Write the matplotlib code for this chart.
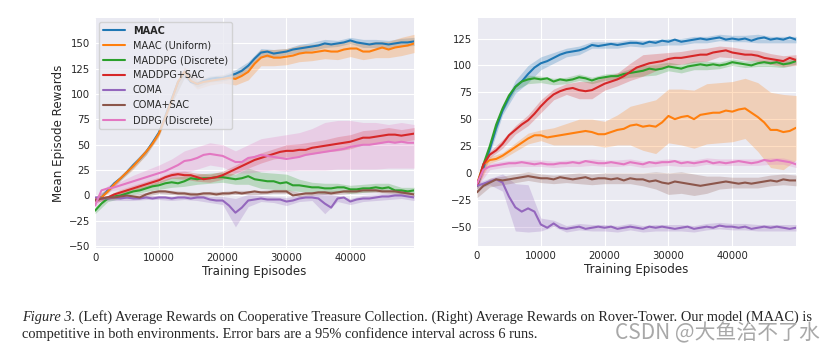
import numpy as np
import matplotlib
matplotlib.use("Agg")
import matplotlib.pyplot as plt

# training episodes: one reading every 1000 episodes, bands every 2000
episodes = np.arange(0, 50001, 1000)
band_eps = episodes[::2]

labels = ["MAAC", "MAAC (Uniform)", "MADDPG (Discrete)", "MADDPG+SAC",
          "COMA", "COMA+SAC", "DDPG (Discrete)"]
colors = ["#1f77b4", "#ff7f0e", "#2ca02c", "#d62728",
          "#9467bd", "#8c564b", "#e377c2"]

# ---- left: Cooperative Treasure Collection ----
tc_maac = [-3, -2, 5, 12, 17, 23, 30, 36, 43, 52,
           62, 78, 95, 112, 121, 112, 110, 113, 115, 116,
           116, 118, 120, 123, 128, 135, 141, 142, 140, 141,
           142, 144, 145, 146, 147, 148, 150, 149, 150, 151,
           153, 151, 150, 149, 150, 150, 149, 150, 151, 151, 152]
tc_uniform = [-3, -2, 4, 11, 17, 23, 29, 36, 43, 51,
              61, 77, 94, 112, 122, 113, 110, 112, 113, 114,
              115, 116, 115, 118, 122, 130, 136, 138, 136, 136,
              137, 138, 140, 141, 141, 142, 143, 142, 142, 144,
              145, 145, 142, 142, 144, 146, 144, 146, 147, 148, 150]
tc_maddpg = [-15, -8, -3, -1, 0, 2, 4, 5, 7, 9,
             10, 12, 13, 12, 14, 17, 16, 17, 17, 18,
             18, 17, 16, 17, 19, 16, 15, 14, 14, 12,
             13, 10, 10, 9, 8, 8, 7, 7, 8, 8,
             6, 6, 7, 7, 8, 7, 8, 5, 5, 4, 5]
tc_maddpg_sac = [-5, -3, -2, 1, 3, 5, 7, 9, 11, 13,
                 15, 18, 20, 21, 20, 20, 18, 16, 17, 18,
                 20, 23, 26, 29, 32, 35, 37, 39, 41, 43,
                 44, 44, 45, 45, 47, 48, 49, 50, 51, 52,
                 53, 55, 57, 57, 58, 59, 60, 60, 59, 60, 61]
tc_coma = [-2, -3, -3, -2, -3, -2, -3, -3, -2, -3,
           -2, -2, -3, -2, -2, -3, -2, -2, -4, -5,
           -5, -10, -17, -12, -5, -4, -3, -4, -4, -4,
           -6, -5, -3, -2, -2, -3, -8, -12, -3, -2,
           -6, -4, -3, -3, -2, -1, -1, 0, 0, -1, -2]
tc_coma_sac = [-5, -3, -2, -2, -1, 0, -1, -2, 1, 3,
               4, 4, 3, 2, 2, 1, 1, 2, 2, 1,
               2, 2, 3, 2, 3, 4, 3, 3, 4, 4,
               4, 0, 1, 2, 2, 3, 3, 2, 3, 4,
               4, 4, 5, 5, 5, 4, 4, 4, 3, 2, 1]
tc_ddpg = [-10, 5, 7, 8, 10, 12, 14, 16, 18, 20,
           22, 24, 27, 30, 34, 35, 37, 40, 41, 40,
           39, 36, 33, 33, 37, 38, 40, 39, 38, 37,
           36, 37, 38, 40, 41, 42, 43, 44, 45, 46,
           48, 49, 50, 50, 51, 52, 53, 52, 53, 52, 52]

# 95% CI half widths (every 2000 episodes)
tc_maac_ci = [2, 2, 2, 3, 3, 3, 4, 5, 3, 3, 3, 4, 4,
              4, 4, 3, 4, 4, 4, 3, 3, 4, 4, 4, 4, 4]
tc_uniform_ci = [2, 2, 2, 3, 3, 3, 4, 5, 5, 4, 4, 6, 8,
                 8, 8, 8, 8, 8, 8, 8, 8, 8, 8, 8, 9, 9]
tc_maddpg_ci = [3, 3, 3, 3, 3, 4, 5, 5, 5, 5, 5, 5, 8,
                8, 8, 8, 6, 5, 5, 4, 4, 4, 4, 4, 3, 3]
tc_maddpg_sac_ci = [2, 2, 3, 3, 3, 3, 3, 4, 4, 4, 4, 4, 5,
                    5, 5, 6, 6, 6, 6, 7, 7, 7, 7, 7, 6, 6]
tc_coma_ci = [2, 2, 2, 2, 2, 2, 2, 2, 3, 3, 4, 14, 6,
              3, 3, 4, 3, 3, 10, 3, 3, 3, 3, 3, 3, 3]
tc_coma_sac_ci = [2, 2, 2, 2, 2, 2, 2, 2, 2, 2, 2, 2, 2,
                  2, 2, 2, 2, 2, 2, 2, 2, 2, 2, 2, 2, 2]
# DDPG band is lopsided, so keep its edges
tc_ddpg_lo = [-12, 4, 6, 9, 12, 15, 17, 22, 26, 30, 28, 22, 22,
              24, 25, 24, 25, 25, 25, 26, 26, 26, 26, 27, 27, 27]
tc_ddpg_hi = [-5, 10, 14, 20, 25, 30, 36, 44, 48, 52, 50, 44, 50,
              56, 58, 60, 62, 66, 72, 74, 74, 72, 72, 70, 72, 70]

# ---- right: Rover-Tower ----
rt_maac = [-12, 5, 22, 42, 58, 70, 80, 85, 92, 98,
           102, 104, 107, 110, 112, 113, 114, 116, 119, 118,
           119, 120, 119, 120, 121, 121, 120, 122, 121, 123,
           122, 124, 122, 123, 124, 125, 124, 125, 126, 124,
           125, 124, 125, 123, 125, 126, 124, 125, 124, 126, 124]
rt_uniform = [-10, 8, 12, 13, 16, 20, 24, 28, 32, 35,
              35, 33, 34, 35, 36, 37, 38, 39, 38, 36,
              36, 38, 40, 41, 44, 45, 43, 44, 43, 47,
              53, 50, 52, 53, 50, 54, 55, 56, 56, 58,
              57, 59, 60, 56, 52, 47, 40, 40, 38, 39, 42]
rt_maddpg = [-12, 8, 25, 45, 60, 72, 80, 85, 87, 88,
             87, 88, 85, 87, 86, 87, 89, 88, 86, 88,
             89, 90, 90, 92, 93, 94, 95, 97, 96, 97,
             99, 98, 97, 99, 100, 101, 100, 101, 100, 101,
             103, 102, 101, 100, 102, 103, 102, 103, 101, 102, 104]
rt_maddpg_sac = [-12, 8, 17, 21, 27, 35, 40, 45, 49, 55,
                 62, 68, 73, 76, 78, 79, 77, 76, 77, 80,
                 83, 85, 87, 90, 94, 98, 100, 102, 103, 104,
                 106, 107, 107, 108, 109, 110, 110, 112, 113, 114,
                 112, 111, 110, 110, 109, 107, 106, 105, 104, 107, 105]
rt_coma = [-12, -10, -8, -6, -9, -22, -32, -36, -33, -36,
           -48, -51, -47, -51, -52, -51, -50, -52, -51, -50,
           -51, -50, -52, -51, -50, -51, -52, -50, -51, -50,
           -51, -52, -51, -50, -52, -51, -50, -51, -49, -50,
           -50, -51, -50, -52, -51, -50, -51, -50, -51, -52, -51]
rt_coma_sac = [-18, -12, -9, -6, -7, -6, -5, -4, -3, -4,
               -5, -5, -6, -4, -5, -6, -5, -4, -6, -5,
               -5, -6, -5, -7, -5, -6, -6, -8, -7, -9,
               -10, -8, -9, -10, -11, -12, -11, -10, -9, -8,
               -9, -10, -9, -10, -9, -8, -7, -8, -6, -7, -7]
rt_ddpg = [-10, 3, 6, 7, 8, 9, 9, 10, 9, 8,
           9, 8, 8, 9, 9, 10, 9, 11, 10, 9,
           9, 10, 9, 8, 10, 9, 8, 10, 9, 10,
           10, 11, 9, 10, 9, 10, 11, 9, 10, 9,
           10, 11, 10, 9, 10, 12, 11, 12, 11, 10, 8]

rt_maac_ci = [3, 4, 4, 6, 8, 6, 5, 4, 4, 3, 3, 3, 3,
              3, 3, 3, 3, 3, 3, 3, 3, 3, 4, 3, 3, 3]
rt_uniform_ci = [3, 3, 3, 4, 5, 5, 8, 10, 12, 12, 12, 14, 18,
                 22, 25, 25, 26, 27, 28, 28, 28, 28, 32, 35, 35, 30]
rt_maddpg_ci = [3, 3, 3, 3, 4, 3, 3, 3, 3, 3, 3, 3, 4,
                5, 5, 4, 4, 4, 4, 3, 3, 3, 3, 3, 3, 3]
rt_maddpg_sac_ci = [3, 3, 4, 4, 5, 6, 5, 5, 8, 8, 6, 6, 8,
                    10, 8, 6, 6, 6, 6, 5, 5, 5, 5, 5, 5, 5]
rt_coma_ci = [3, 3, 8, 22, 22, 6, 3, 3, 3, 3, 3, 3, 3,
              3, 3, 3, 3, 3, 3, 3, 3, 3, 3, 3, 3, 3]
rt_coma_sac_ci = [5, 4, 4, 4, 4, 4, 4, 4, 5, 5, 5, 5, 5,
                  6, 8, 10, 10, 10, 8, 6, 5, 5, 5, 5, 5, 5]
rt_ddpg_ci = [3, 3, 3, 3, 3, 3, 3, 3, 3, 3, 3, 3, 3,
              3, 3, 3, 3, 3, 3, 3, 3, 3, 3, 3, 3, 3]

caption_1 = ("(Left) Average Rewards on Cooperative Treasure Collection. "
             "(Right) Average Rewards on Rover-Tower. Our model (MAAC) is")
caption_2 = ("competitive in both environments. Error bars are a 95% "
             "confidence interval across 6 runs.")


plt.style.use("seaborn-v0_8-darkgrid")
plt.rcParams["font.family"] = ["DejaVu Sans"]
fig = plt.figure(figsize=(8.34, 3.55), dpi=100)
ax1 = fig.add_axes([0.114, 0.301, 0.3825, 0.648])
ax2 = fig.add_axes([0.572, 0.307, 0.3825, 0.642])


def draw(ax, means, bands):
    for y, band, c, lab in zip(means, bands, colors, labels):
        y = np.array(y, dtype=float)
        if isinstance(band, tuple):
            lo, hi = np.array(band[0]), np.array(band[1])
        else:
            lo = y[::2] - np.array(band)
            hi = y[::2] + np.array(band)
        ax.fill_between(band_eps, lo, hi, color=c, alpha=0.25, lw=0)
        ax.plot(episodes, y, color=c, lw=1.5, label=lab)
    ax.set_xlim(0, 50000)
    ax.set_xticks([0, 10000, 20000, 30000, 40000])
    ax.tick_params(labelsize=7.3, colors="0.15", pad=3.5)
    ax.set_xlabel("Training Episodes", fontsize=8.6, color="0.15", labelpad=1.5)


draw(ax1, [tc_maac, tc_uniform, tc_maddpg, tc_maddpg_sac, tc_coma, tc_coma_sac, tc_ddpg],
     [tc_maac_ci, tc_uniform_ci, tc_maddpg_ci, tc_maddpg_sac_ci, tc_coma_ci,
      tc_coma_sac_ci, (tc_ddpg_lo, tc_ddpg_hi)])
ax1.set_ylim(-52, 175)
ax1.set_yticks(np.arange(-50, 151, 25))
ax1.set_ylabel("Mean Episode Rewards", fontsize=8.6, color="0.15", labelpad=3)
leg = ax1.legend(loc="upper left", fontsize=7, frameon=True, handlelength=2.3,
                 borderaxespad=0.4)
leg.get_frame().set_edgecolor("0.8")
leg.get_texts()[0].set_fontweight("bold")

draw(ax2, [rt_maac, rt_uniform, rt_maddpg, rt_maddpg_sac, rt_coma, rt_coma_sac, rt_ddpg],
     [rt_maac_ci, rt_uniform_ci, rt_maddpg_ci, rt_maddpg_sac_ci, rt_coma_ci,
      rt_coma_sac_ci, rt_ddpg_ci])
ax2.set_ylim(-68, 144)
ax2.set_yticks(np.arange(-50, 126, 25))

# caption under the figure
serif = "Liberation Serif"
t1 = fig.text(0.026, 0.096, "Figure 3.", family=serif, style="italic", fontsize=10.4)
ax1.annotate(" " + caption_1, xy=(1, 0), xycoords=t1, va="bottom",
             family=serif, fontsize=10.4, annotation_clip=False)
fig.text(0.026, 0.048, caption_2, family=serif, fontsize=10.4)
fig.text(0.983, 0.044, "CSDN @大鱼治不了水", ha="right", color="#a8a8a8",
         fontsize=15, family=["Noto Sans CJK SC", "DejaVu Sans"])

fig.savefig("out.png", dpi=100, facecolor="white")
